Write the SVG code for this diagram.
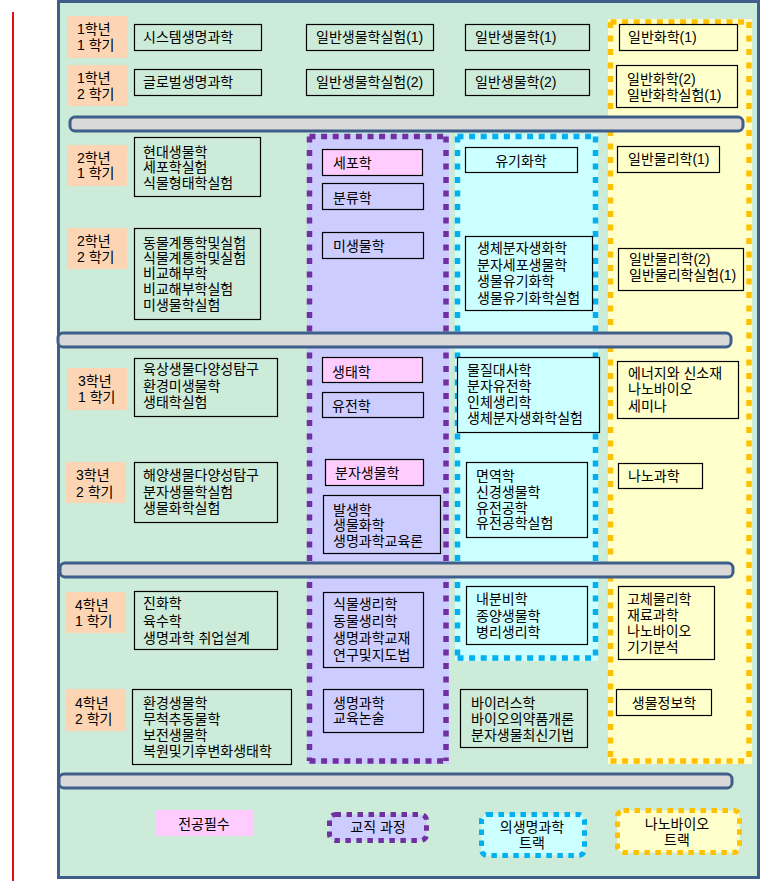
<svg xmlns="http://www.w3.org/2000/svg" width="762" height="881" viewBox="0 0 762 881">
<style>
text{font-family:"Liberation Sans","Noto Sans CJK KR",sans-serif;font-size:14px;fill:#000}
.c{text-anchor:middle}
.sem{fill:#fcd5b5;stroke:none}
.box{stroke:#000;stroke-width:1.2}
.g{fill:#ccebd8}
.p{fill:#ccccff}
.pk{fill:#ffccff}
.cy{fill:#ccffff}
.y{fill:#ffffcc}
.bar{fill:#d9d9d9;stroke:#3f5f8a;stroke-width:3}
.dh{fill:none;stroke-width:5.5;stroke-dasharray:6 5.6}
.dv{fill:none;stroke-width:5.5;stroke-dasharray:6 7.5}
.dl{stroke-width:5;stroke-dasharray:5.5 5.5}
.sp{stroke:#7030a0}
.sc{stroke:#00b0f0}
.sy{stroke:#ffc000}
</style>
<rect width="762" height="881" fill="#ffffff"/>
<line x1="13" y1="12" x2="13" y2="881" stroke="#e01010" stroke-width="2"/>
<rect id="frame" x="58.5" y="1.5" width="700" height="876" fill="#ccebd8" stroke="#3f5f8a" stroke-width="3"/>

<g id="region-teaching">
<rect x="307" y="134" width="142" height="630" fill="#ccccff"/>
<path class="dh sp" d="M309.5 136.5H446M309.5 761H446"/>
<path class="dv sp" d="M309.5 136.5V761M446 136.5V761"/>
</g>
<g id="region-biomed">
<rect x="455" y="134" width="143" height="527" fill="#ccffff"/>
<path class="dh sc" d="M457.5 136.5H595.5M457.5 658H595.5"/>
<path class="dv sc" d="M457.5 136.5V658M595.5 136.5V658"/>
</g>
<g id="region-nano">
<rect x="608" y="19" width="144" height="745" fill="#ffffcc"/>
<path class="dh sy" d="M610.5 22H749M610.5 761H749"/>
<path class="dv sy" d="M610.5 22V761M749 22V761"/>
</g>

<g id="bars">
<rect class="bar" x="70" y="117" width="673" height="14" rx="5"/>
<rect class="bar" x="58" y="333" width="673" height="14" rx="5"/>
<rect class="bar" x="60" y="563" width="673" height="14" rx="5"/>
<rect class="bar" x="59" y="774" width="673" height="14" rx="5"/>
</g>

<g id="sem-1-1"><rect class="sem" x="67" y="16" width="61" height="42"/><text x="77" y="34">1학년</text><text x="77" y="50">1 학기</text></g>
<g id="sem-1-2"><rect class="sem" x="68" y="65" width="60" height="41"/><text x="77" y="83">1학년</text><text x="77" y="99">2 학기</text></g>
<g id="sem-2-1"><rect class="sem" x="67" y="145" width="60" height="41"/><text x="77" y="163">2학년</text><text x="77" y="178">1 학기</text></g>
<g id="sem-2-2"><rect class="sem" x="67" y="228" width="60" height="41"/><text x="77" y="246">2학년</text><text x="77" y="262">2 학기</text></g>
<g id="sem-3-1"><rect class="sem" x="67" y="368" width="60" height="42"/><text x="78" y="386">3학년</text><text x="78" y="402">1 학기</text></g>
<g id="sem-3-2"><rect class="sem" x="66" y="462" width="60" height="41"/><text x="76" y="480">3학년</text><text x="76" y="497">2 학기</text></g>
<g id="sem-4-1"><rect class="sem" x="66" y="592" width="60" height="41"/><text x="75" y="610">4학년</text><text x="75" y="626">1 학기</text></g>
<g id="sem-4-2"><rect class="sem" x="66" y="689" width="60" height="42"/><text x="75" y="708">4학년</text><text x="75" y="724">2 학기</text></g>

<g id="c1-1"><rect class="box g" x="134.5" y="24.5" width="127" height="26"/><text x="143" y="42">시스템생명과학</text></g>
<g id="c1-2"><rect class="box g" x="134.5" y="69.5" width="127" height="26"/><text x="143" y="87">글로벌생명과학</text></g>
<g id="c1-3"><rect class="box g" x="134.5" y="137.5" width="126" height="59"/><text x="143" y="157">현대생물학</text><text x="143" y="172">세포학실험</text><text x="143" y="188">식물형태학실험</text></g>
<g id="c1-4"><rect class="box g" x="134.5" y="228.5" width="126" height="91"/><text x="143" y="248">동물계통학및실험</text><text x="143" y="263">식물계통학및실험</text><text x="143" y="278">비교해부학</text><text x="143" y="294">비교해부학실험</text><text x="143" y="310">미생물학실험</text></g>
<g id="c1-5"><rect class="box g" x="134.5" y="358.5" width="143" height="58"/><text x="143" y="374">육상생물다양성탐구</text><text x="143" y="391">환경미생물학</text><text x="143" y="407">생태학실험</text></g>
<g id="c1-6"><rect class="box g" x="134.5" y="462.5" width="143" height="60"/><text x="143" y="480">해양생물다양성탐구</text><text x="143" y="497">분자생물학실험</text><text x="143" y="513">생물화학실험</text></g>
<g id="c1-7"><rect class="box g" x="134.5" y="591.5" width="143" height="58"/><text x="143" y="608">진화학</text><text x="143" y="626">육수학</text><text x="143" y="643">생명과학 취업설계</text></g>
<g id="c1-8"><rect class="box g" x="132.5" y="689.5" width="159" height="75"/><text x="143" y="708">환경생물학</text><text x="143" y="724">무척추동물학</text><text x="143" y="740">보전생물학</text><text x="143" y="756">복원및기후변화생태학</text></g>

<g id="c2-1"><rect class="box g" x="306.5" y="24.5" width="127" height="26"/><text x="316" y="42">일반생물학실험(1)</text></g>
<g id="c2-2"><rect class="box g" x="306.5" y="69.5" width="127" height="26"/><text x="316" y="87">일반생물학실험(2)</text></g>
<g id="c3-1"><rect class="box g" x="465.5" y="24.5" width="124" height="26"/><text x="475" y="42">일반생물학(1)</text></g>
<g id="c3-2"><rect class="box g" x="465.5" y="69.5" width="124" height="26"/><text x="475" y="87">일반생물학(2)</text></g>
<g id="c4-1"><rect class="box y" x="619.5" y="24.5" width="118" height="26"/><text x="628" y="42">일반화학(1)</text></g>
<g id="c4-2"><rect class="box y" x="616.5" y="65.5" width="121" height="42"/><text x="627" y="84">일반화학(2)</text><text x="627" y="100">일반화학실험(1)</text></g>

<g id="p-1"><rect class="box pk" x="322.5" y="149.5" width="100" height="26"/><text x="333" y="168">세포학</text></g>
<g id="p-2"><rect class="box p" x="322.5" y="183.5" width="101" height="26"/><text x="333" y="203">분류학</text></g>
<g id="p-3"><rect class="box p" x="322.5" y="232.5" width="101" height="26"/><text x="333" y="251">미생물학</text></g>
<g id="p-4"><rect class="box pk" x="322.5" y="357.5" width="100" height="25"/><text x="332" y="377">생태학</text></g>
<g id="p-5"><rect class="box p" x="322.5" y="392.5" width="101" height="25"/><text x="332" y="411">유전학</text></g>
<g id="p-6"><rect class="box pk" x="325.5" y="459.5" width="98" height="26"/><text x="335" y="478">분자생물학</text></g>
<g id="p-7"><rect class="box p" x="323.5" y="495.5" width="117" height="58"/><text x="333" y="515">발생학</text><text x="333" y="530">생물화학</text><text x="333" y="546">생명과학교육론</text></g>
<g id="p-8"><rect class="box p" x="323.5" y="592.5" width="100" height="75"/><text x="333" y="609">식물생리학</text><text x="333" y="626">동물생리학</text><text x="333" y="643">생명과학교재</text><text x="333" y="660">연구및지도법</text></g>
<g id="p-9"><rect class="box p" x="323.5" y="689.5" width="100" height="43"/><text x="333" y="708">생명과학</text><text x="333" y="723">교육논술</text></g>

<g id="b-1"><rect class="box cy" x="465.5" y="147.5" width="112" height="25"/><text class="c" x="521" y="166">유기화학</text></g>
<g id="b-2"><rect class="box cy" x="465.5" y="236.5" width="127" height="74"/><text x="477" y="253">생체분자생화학</text><text x="477" y="269.5">분자세포생물학</text><text x="477" y="286">생물유기화학</text><text x="477" y="302.5">생물유기화학실험</text></g>
<g id="b-3"><rect class="box cy" x="457.5" y="357.5" width="142" height="75"/><text x="467" y="375">물질대사학</text><text x="467" y="391">분자유전학</text><text x="467" y="407">인체생리학</text><text x="467" y="423">생체분자생화학실험</text></g>
<g id="b-4"><rect class="box cy" x="466.5" y="462.5" width="121" height="75"/><text x="476" y="481">면역학</text><text x="476" y="497">신경생물학</text><text x="476" y="513">유전공학</text><text x="476" y="528">유전공학실험</text></g>
<g id="b-5"><rect class="box cy" x="466.5" y="586.5" width="121" height="58"/><text x="476" y="604">내분비학</text><text x="476" y="621">종양생물학</text><text x="476" y="637">병리생리학</text></g>
<g id="b-6"><rect class="box g" x="460.5" y="689.5" width="127" height="58"/><text x="471" y="708">바이러스학</text><text x="471" y="724">바이오의약품개론</text><text x="471" y="740">분자생물최신기법</text></g>

<g id="n-1"><rect class="box y" x="617.5" y="146.5" width="102" height="26"/><text x="628" y="164">일반물리학(1)</text></g>
<g id="n-2"><rect class="box y" x="618.5" y="248.5" width="125" height="42"/><text x="629" y="264">일반물리학(2)</text><text x="629" y="280">일반물리학실험(1)</text></g>
<g id="n-3"><rect class="box y" x="617.5" y="361.5" width="121" height="57"/><text x="628" y="378">에너지와 신소재</text><text x="628" y="394">나노바이오</text><text x="628" y="411">세미나</text></g>
<g id="n-4"><rect class="box y" x="618.5" y="463.5" width="84" height="25"/><text x="628" y="481">나노과학</text></g>
<g id="n-5"><rect class="box y" x="618.5" y="586.5" width="96" height="73"/><text x="627" y="604">고체물리학</text><text x="627" y="620">재료과학</text><text x="627" y="636">나노바이오</text><text x="627" y="652">기기분석</text></g>
<g id="n-6"><rect class="box y" x="616.5" y="689.5" width="95" height="26"/><text class="c" x="664" y="708">생물정보학</text></g>

<g id="legend-major"><rect x="155" y="810" width="98" height="26" fill="#ffccff"/><text class="c" x="204" y="829">전공필수</text></g>
<g id="legend-teaching"><rect class="dl sp" x="329.5" y="814.5" width="97" height="26" rx="6" fill="#ccccff"/><text class="c" x="378" y="832">교직 과정</text></g>
<g id="legend-biomed"><rect class="dl sc" x="481.5" y="814.5" width="103" height="41" rx="6" fill="#ccffff"/><text class="c" x="532" y="832">의생명과학</text><text class="c" x="532" y="847.5">트랙</text></g>
<g id="legend-nano"><rect class="dl sy" x="617.5" y="810.5" width="122" height="42" rx="6" fill="#ffffcc"/><text class="c" x="677" y="829">나노바이오</text><text class="c" x="677" y="845">트랙</text></g>
</svg>
